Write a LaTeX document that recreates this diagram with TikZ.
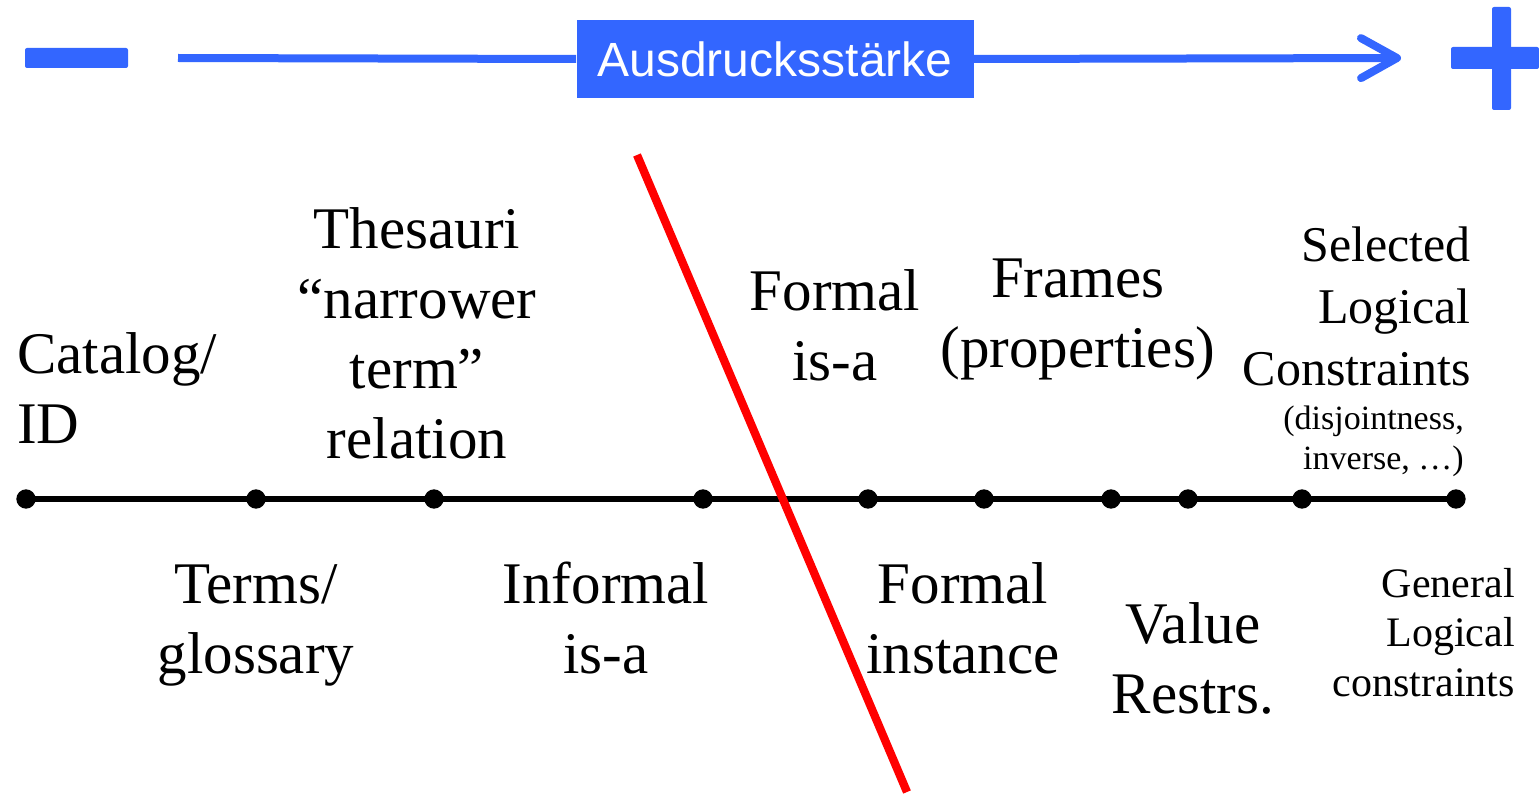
\documentclass[tikz,border=0pt]{standalone}
\usepackage{fontspec}
\setmainfont{Liberation Serif}
\newfontfamily\boxfont{Liberation Sans}
\usetikzlibrary{arrows.meta}
\definecolor{scaleblue}{RGB}{51,102,255}
\definecolor{cutred}{RGB}{255,0,0}
\begin{document}
\begin{tikzpicture}[x=0.75pt,y=-0.75pt,
  big/.style={font=\fontsize{44.25pt}{52.5pt}\selectfont, inner sep=0pt, anchor=base},
  mid/.style={font=\fontsize{37.5pt}{46.5pt}\selectfont, inner sep=0pt, anchor=base east, align=right},
  small/.style={font=\fontsize{25.5pt}{30pt}\selectfont, inner sep=0pt, anchor=base east, align=right},
  genl/.style={font=\fontsize{31.5pt}{37pt}\selectfont, inner sep=0pt, anchor=base east, align=right},
  dot/.style={circle, fill=black, inner sep=0pt, minimum size=14.5pt},
  bluebar/.style={fill=scaleblue, draw=none, rounded corners=1.5pt},
  scaleline/.style={draw=scaleblue, line width=6pt}]
\useasboundingbox (0,0) rectangle (1539,795);

% expressiveness scale at the top
\path[bluebar] (25,48) rectangle (128,68);
\path[bluebar] (1492,7) rectangle (1511,110);
\path[bluebar] (1451,47) rectangle (1539,69);
\coordinate (sstart) at (178,58);
\coordinate (send) at (1401,58);
\node[fill=scaleblue, minimum width=297.75pt, minimum height=58.5pt, inner sep=0pt,
      text=white, font=\boxfont\fontsize{36pt}{40pt}\selectfont] (scale) at (775,59) {Ausdrucksstärke};
\draw[scaleline] (sstart) -- (scale.west);
\draw[scaleline, -{Straight Barb[length=27pt, width=30pt, round]}] (scale.east) -- (send);

% timeline with its points
\foreach \i/\x in {1/26, 2/256, 3/434, 4/703, 5/868, 6/984, 7/1111, 8/1188, 9/1302, 10/1456}
  \node[dot] (d\i) at (\x,499) {};
\draw[line width=4.5pt] (d1.center) -- (d10.center);

% labels above the line (placed by the baseline of their last line)
\node[big, anchor=base west, align=left] (catalog) at (17,443) {Catalog/\\ID};
\node[big, align=center] (thesauri) at (417,458) {Thesauri\\``narrower\\term''\\relation};
\node[big, align=center] (formalisa) at (835,380) {Formal\\is-a};
\node[big, align=center] (frames) at (1078,367) {Frames\\(properties)};
\node[mid] (selected) at (1471,385) {Selected\\Logical\\Constraints};
\node[small] (disj) at (1464,469) {(disjointness,\\inverse, \dots)};

% labels below the line
\node[big, align=center] (terms) at (256,673) {Terms/\\glossary};
\node[big, align=center] (informal) at (606,673) {Informal\\is-a};
\node[big, align=center] (instance) at (963,673) {Formal\\instance};
\node[big, align=center] (value) at (1193,713) {Value\\Restrs.};
\node[genl] (general) at (1515,696) {General\\Logical\\constraints};

% red dividing stroke
\coordinate (cut1) at (637,155);
\coordinate (cut2) at (907,792);
\draw[cutred, line width=6.2pt] (cut1) -- (cut2);
\end{tikzpicture}
\end{document}
